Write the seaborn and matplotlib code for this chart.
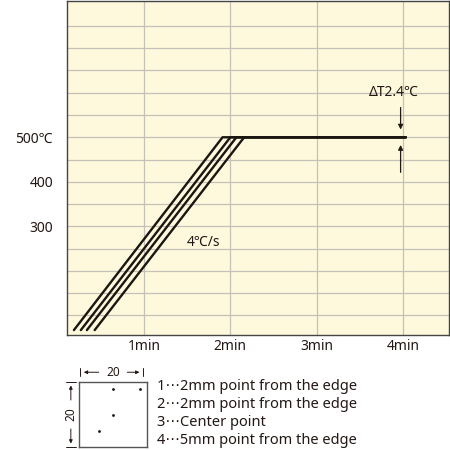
import numpy as np
import pandas as pd
import seaborn as sns
import matplotlib.pyplot as plt

# heating curves, minutes vs degC, one per measuring point
points = ["1", "2", "3", "4"]
t_start = [0.19, 0.27, 0.34, 0.43]
t_reach = [1.91, 2.00, 2.07, 2.16]
t_end = 4.03
temp_start = 67
temp_hold = 500

x_ticks = [1, 2, 3, 4]
x_labels = ["1min", "2min", "3min", "4min"]
y_grid = list(range(100, 800, 50))
y_labels = {300: "300", 400: "400", 500: "500℃"}

# sample plate (20 x 20 mm) and the measuring points on it
plate_mm = 20
dot_x = [10, 18, 10, 6]
dot_y = [2, 2, 10, 15]
legend_lines = ["1⋯2mm point from the edge",
                "2⋯2mm point from the edge",
                "3⋯Center point",
                "4⋯5mm point from the edge"]

rows = []
for p, a, b in zip(points, t_start, t_reach):
    rows += [(p, a, temp_start), (p, b, temp_hold), (p, t_end, temp_hold)]
df = pd.DataFrame(rows, columns=["point", "time", "temp"])

sns.set_style("white")
plt.rcParams["font.family"] = ["Noto Sans", "DejaVu Sans"]
ink = "#231815"

fig = plt.figure(figsize=(4.5, 4.5), dpi=100)
ax = fig.add_axes([67 / 450, 115 / 450, 382 / 450, 334 / 450])
ax.set_facecolor("#fef8dc")

sns.lineplot(data=df, x="time", y="temp", units="point", estimator=None,
             color="#1a1612", lw=1.7, ax=ax, legend=False)

ax.set_xlim(0.11, 4.53)
ax.set_ylim(56, 806)
ax.set_xticks(x_ticks)
ax.set_xticklabels(x_labels)
ax.set_yticks(y_grid)
ax.set_yticklabels([y_labels.get(v, "") for v in y_grid])
ax.grid(True, color="#c4c2b8", lw=0.9)
ax.set_axisbelow(True)
ax.tick_params(length=0, labelsize=10, colors=ink)
ax.tick_params(axis="y", pad=10)
ax.tick_params(axis="x", pad=3)
ax.set_xlabel("")
ax.set_ylabel("")
for s in ax.spines.values():
    s.set_color("#444444")
    s.set_linewidth(1.0)

ax.text(1.69, 265, "4℃/s", ha="center", va="center", fontsize=10, color=ink)
ax.text(3.89, 600, "ΔT2.4℃", ha="center", va="center", fontsize=10, color=ink)
ax.annotate("", xy=(3.97, 511), xytext=(3.97, 573),
            arrowprops=dict(arrowstyle="-|>", color=ink, lw=0.9, mutation_scale=7))
ax.annotate("", xy=(3.97, 489), xytext=(3.97, 415),
            arrowprops=dict(arrowstyle="-|>", color=ink, lw=0.9, mutation_scale=7))

# plate sketch
ins = fig.add_axes([79 / 450, 3 / 450, 68 / 450, 65 / 450])
ins.set_facecolor("white")
sns.scatterplot(x=dot_x, y=dot_y, color=ink, s=5, ax=ins, legend=False)
ins.set_xlim(0, plate_mm)
ins.set_ylim(plate_mm, 0)
ins.set_xticks([])
ins.set_yticks([])
for s in ins.spines.values():
    s.set_color("#555555")
    s.set_linewidth(1.0)

tf = ins.transAxes
arw = dict(arrowstyle="-|>", color=ink, lw=0.7, mutation_scale=5)
# width dimension
ins.text(0.5, 1.15, str(plate_mm), transform=tf, ha="center", va="center",
         fontsize=8.5, color=ink)
ins.annotate("", xy=(0.03, 1.15), xytext=(0.33, 1.15), xycoords=tf, textcoords=tf,
             arrowprops=arw)
ins.annotate("", xy=(0.93, 1.15), xytext=(0.67, 1.15), xycoords=tf, textcoords=tf,
             arrowprops=arw)
ins.plot([0.02, 0.02], [1.09, 1.21], transform=tf, color=ink, lw=0.7, clip_on=False)
ins.plot([0.94, 0.94], [1.09, 1.21], transform=tf, color=ink, lw=0.7, clip_on=False)
# height dimension
ins.text(-0.12, 0.5, str(plate_mm), transform=tf, ha="center", va="center",
         fontsize=8.5, color=ink, rotation=90)
ins.annotate("", xy=(-0.12, 0.99), xytext=(-0.12, 0.68), xycoords=tf, textcoords=tf,
             arrowprops=arw)
ins.annotate("", xy=(-0.12, 0.01), xytext=(-0.12, 0.32), xycoords=tf, textcoords=tf,
             arrowprops=arw)
ins.plot([-0.19, -0.05], [1.0, 1.0], transform=tf, color=ink, lw=0.7, clip_on=False)
ins.plot([-0.19, -0.05], [0.0, 0.0], transform=tf, color=ink, lw=0.7, clip_on=False)

for i, line in enumerate(legend_lines):
    fig.text(157 / 450, (450 - 386 - 18 * i) / 450, line, ha="left", va="center",
             fontsize=10.5, color=ink)

fig.savefig("out.png", dpi=100)
